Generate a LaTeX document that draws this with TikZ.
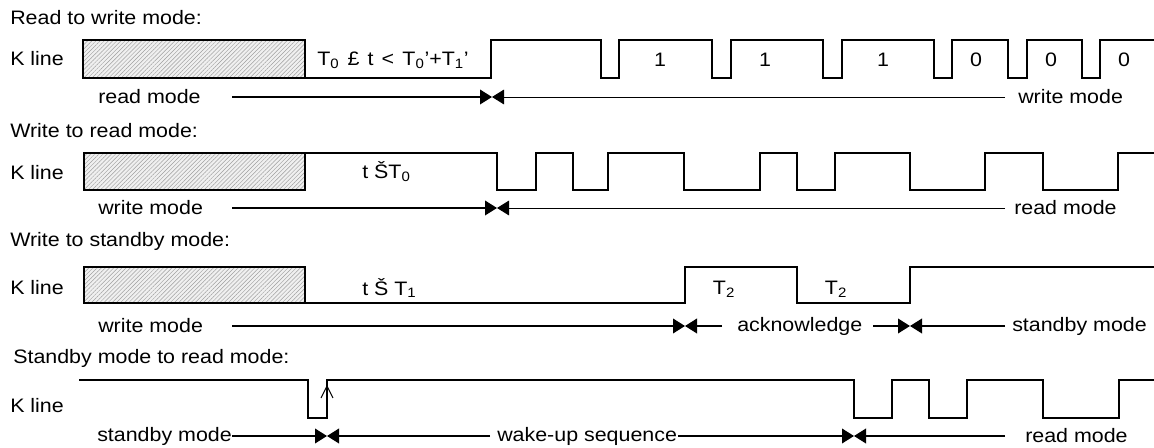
\documentclass[tikz,border=0pt]{standalone}
\usepackage{fontspec}
\setmainfont{Liberation Sans}[FakeStretch=1.1]
\usetikzlibrary{arrows.meta,patterns.meta}
\begin{document}
\begin{tikzpicture}[x=0.75pt,y=-0.75pt,
  every node/.style={inner sep=0pt, anchor=west, font=\fontsize{14.6}{17}\selectfont},
  sig/.style={line width=1.5pt, line join=miter},
  thk/.style={line width=1.2pt},
  thn/.style={line width=0.7pt},
  bow/.style={-{Triangle[length=9pt,width=11pt]}},
  digit/.style={anchor=center},
  hatchfill/.style={pattern={Lines[angle=45,distance=2.2pt,line width=0.35pt]}, pattern color=gray!75}]
\newcommand{\sps}{\hspace{0.42em}}
\useasboundingbox (0,0) rectangle (1154,448);
% ---------------- Row 1
\node (t1) at (10,18) {Read to write mode:};
\node (k1) at (10,59) {K line};
\fill[gray!12] (83,40) rectangle (305,78);
\fill[hatchfill] (83,40) rectangle (305,78);
\draw[sig] (83,40) rectangle (305,78);
\draw[sig] (305,78) -- (491,78) -- (491,40) -- (601,40) -- (601,78) -- (619,78) -- (619,40)
  -- (712,40) -- (712,78) -- (731,78) -- (731,40) -- (823,40) -- (823,78) -- (842,78) -- (842,40)
  -- (934,40) -- (934,78) -- (952,78) -- (952,40) -- (1008,40) -- (1008,78) -- (1027,78) -- (1027,40)
  -- (1082,40) -- (1082,78) -- (1100,78) -- (1100,40) -- (1154,40);
\node (c1) at (317,60) {T\textsubscript{0}\sps£\sps t\sps<\sps T\textsubscript{0}’+T\textsubscript{1}’};
\node[digit] (d1) at (660,60) {1};
\node[digit] (d2) at (765,60) {1};
\node[digit] (d3) at (883,60) {1};
\node[digit] (d4) at (976,60) {0};
\node[digit] (d5) at (1051,60) {0};
\node[digit] (d6) at (1124,60) {0};
\node (rm1) at (98,97) {read mode};
\coordinate (a1s) at (232,97);
\coordinate (x1) at (492,97);
\coordinate (a1e) at (1005,97);
\node (wm1) at (1018,97) {write mode};
\draw[thk,bow] (a1s) -- (x1);
\draw[thn,bow] (a1e) -- (x1);
% ---------------- Row 2
\node (t2) at (10,131) {Write to read mode:};
\node (k2) at (10,173) {K line};
\fill[gray!12] (84,153) rectangle (305,190);
\fill[hatchfill] (84,153) rectangle (305,190);
\draw[sig] (84,153) rectangle (305,190);
\draw[sig] (305,153) -- (497,153) -- (497,190) -- (536,190) -- (536,153) -- (573,153) -- (573,190)
  -- (608,190) -- (608,153) -- (684,153) -- (684,190) -- (760,190) -- (760,153) -- (797,153) -- (797,190)
  -- (835,190) -- (835,153) -- (910,153) -- (910,190) -- (985,190) -- (985,153) -- (1043,153) -- (1043,190)
  -- (1118,190) -- (1118,153) -- (1154,153);
\node (c2) at (362,172) {t ŠT\textsubscript{0}};
\node (wm2) at (98,208) {write mode};
\coordinate (a2s) at (232,208);
\coordinate (x2) at (497,208);
\coordinate (a2e) at (1005,208);
\node (rm2) at (1014,208) {read mode};
\draw[thk,bow] (a2s) -- (x2);
\draw[thn,bow] (a2e) -- (x2);
% ---------------- Row 3
\node (t3) at (10,241) {Write to standby mode:};
\node (k3) at (10,288) {K line};
\fill[gray!12] (84,267) rectangle (305,303);
\fill[hatchfill] (84,267) rectangle (305,303);
\draw[sig] (84,267) rectangle (305,303);
\draw[sig] (305,303) -- (685,303) -- (685,267) -- (797,267) -- (797,303) -- (910,303) -- (910,267) -- (1154,267);
\node (c3) at (362,288) {t Š T\textsubscript{1}};
\node[digit] (p1) at (724,289) {T\textsubscript{2}};
\node[digit] (p2) at (836,289) {T\textsubscript{2}};
\node (wm3) at (98,326) {write mode};
\coordinate (a3s) at (232,326);
\coordinate (x3) at (685,326);
\coordinate (a3m) at (722,326);
\node (ack) at (737,326) {acknowledge};
\coordinate (a3n) at (873,326);
\coordinate (x4) at (910,326);
\coordinate (a3e) at (1005,326);
\node (sm3) at (1012,326) {standby mode};
\draw[thk,bow] (a3s) -- (x3);
\draw[thk,bow] (a3m) -- (x3);
\draw[thk,bow] (a3n) -- (x4);
\draw[thk,bow] (a3e) -- (x4);
% ---------------- Row 4
\node (t4) at (13,358) {Standby mode to read mode:};
\node (k4) at (10,406) {K line};
\draw[sig] (79,380) -- (308,380) -- (308,418) -- (327,418) -- (327,380) -- (854,380) -- (854,418)
  -- (892,418) -- (892,380) -- (929,380) -- (929,418) -- (967,418) -- (967,380) -- (1043,380) -- (1043,418)
  -- (1119,418) -- (1119,380) -- (1154,380);
\coordinate (up) at (327,386);
\draw[line width=0.7pt] (321,398) -- (up) -- (333,398);
\node (sm4) at (97,436) {standby mode};
\coordinate (x5) at (327,436);
\coordinate (a4m) at (490,436);
\node (wk) at (497,436) {wake-up sequence};
\coordinate (a4n) at (678,436);
\coordinate (x6) at (854,436);
\coordinate (a4e) at (1005,436);
\node (rm4) at (1025,436) {read mode};
\draw[thk,bow] (sm4.east) -- (x5);
\draw[thk,bow] (a4m) -- (x5);
\draw[thk,bow] (a4n) -- (x6);
\draw[thk,bow] (a4e) -- (x6);
\end{tikzpicture}
\end{document}
